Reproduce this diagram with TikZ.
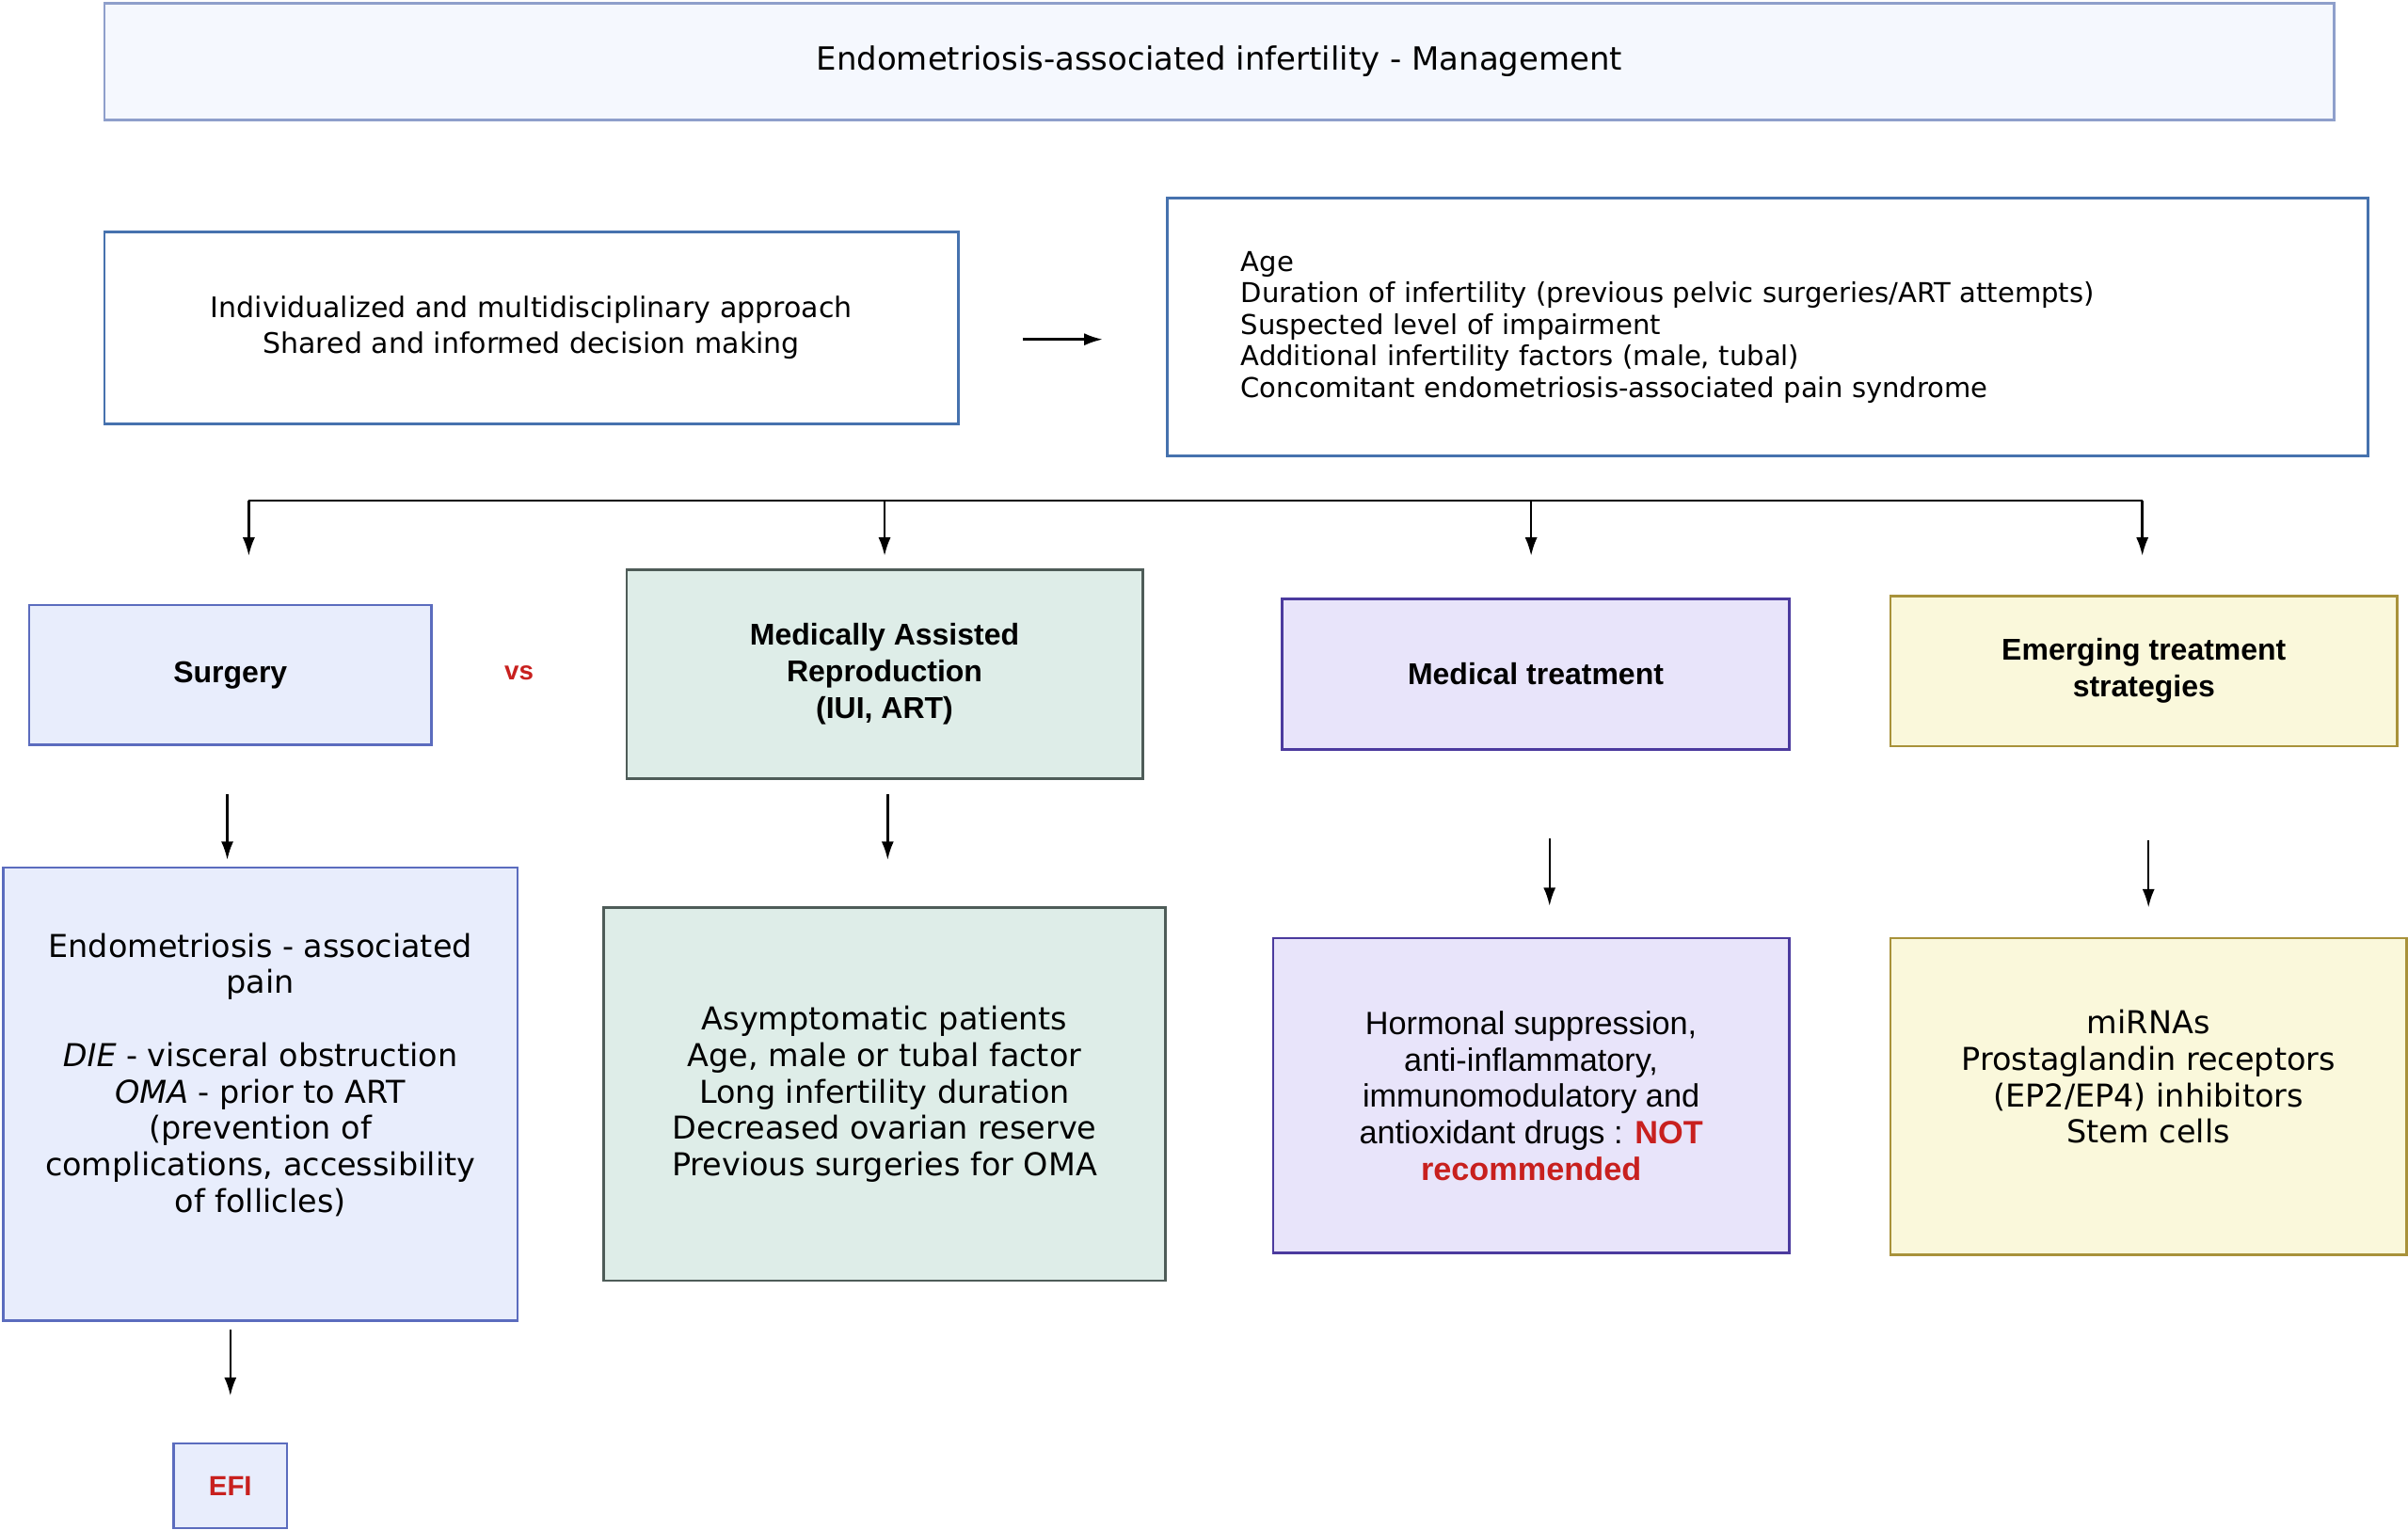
\documentclass[tikz,border=0pt]{standalone}
\usepackage{fontspec}
\setmainfont{DejaVu Sans}
\newfontfamily\headfont{Liberation Sans}
\usetikzlibrary{positioning}
\usetikzlibrary{calc}
\usetikzlibrary{arrows.meta}

\definecolor{titlefill}{HTML}{F5F8FE}
\definecolor{titledraw}{HTML}{8E9FCB}
\definecolor{bluedraw}{HTML}{4672AE}
\definecolor{surgfill}{HTML}{E8EDFC}
\definecolor{surgdraw}{HTML}{5B6CBE}
\definecolor{marfill}{HTML}{DEEDE8}
\definecolor{mardraw}{HTML}{4E5C58}
\definecolor{medfill}{HTML}{E8E4FA}
\definecolor{meddraw}{HTML}{4B3A9E}
\definecolor{emfill}{HTML}{FAF8DB}
\definecolor{emdraw}{HTML}{A8923A}
\definecolor{warnred}{HTML}{C8201E}

\newcommand{\txtsize}{\fontsize{20.5}{23.7}\selectfont}
\newcommand{\hdsize}{\headfont\bfseries\fontsize{19.6}{24}\selectfont}

\tikzset{
	every node/.style={align=center,outer sep=0pt},
	box/.style={draw,rectangle,line width=1.6pt},
	arr/.style={-{Latex[length=12pt,width=8pt]},line width=1.5pt},
}

\begin{document}
\begin{tikzpicture}[x=1pt,y=-1pt]
	\useasboundingbox (0,0) rectangle (1568,996);

	% title.....................
	\node [box,draw=titledraw,fill=titlefill,minimum width=1452,minimum height=76,font=\fontsize{20.8}{24}\selectfont] (title) at (794,40) {Endometriosis-associated infertility - Management};

	% approach and factors.....................
	\node [box,draw=bluedraw,minimum width=556,minimum height=125,font=\fontsize{18.4}{23}\selectfont] (approach) at (346,213.5) {Individualized and multidisciplinary approach\\Shared and informed decision making};
	\node [box,draw=bluedraw,minimum width=782,minimum height=168,text width=686,align=left,font=\fontsize{17.8}{20.5}\selectfont] (factors) at (1151,213) {Age\\Duration of infertility (previous pelvic surgeries/ART attempts)\\Suspected level of impairment\\Additional infertility factors (male, tubal)\\Concomitant endometriosis-associated pain syndrome};
	\coordinate (a1) at ($(approach.east)+(0,7.5)$);
	\draw [arr,shorten <=42pt,shorten >=42pt] (a1) -- (a1 -| factors.west);

	% options.....................
	\node [box,draw=surgdraw,fill=surgfill,minimum width=262,minimum height=91,font=\hdsize] (surgery) at (150,439.5) {Surgery};
	\node [text=warnred,font=\headfont\bfseries\fontsize{17}{20}\selectfont] (vs) at (338,438) {vs};
	\node [box,draw=mardraw,fill=marfill,minimum width=336,minimum height=136,font=\hdsize] (mar) at (576,439) {Medically Assisted\\Reproduction\\(IUI, ART)};
	\node [box,draw=meddraw,fill=medfill,minimum width=330,minimum height=98,font=\hdsize] (medical) at (1000,439) {Medical treatment};
	\node [box,draw=emdraw,fill=emfill,minimum width=330,minimum height=98,font=\hdsize] (emerging) at (1396,437) {Emerging treatment\\strategies};

	% bus line.....................
	\coordinate (b1) at (162,326);
	\coordinate (b2) at (576,326);
	\coordinate (b3) at (997,326);
	\coordinate (b4) at (1395,326);
	\draw [line width=1.5pt] (b1) -- (b4);
	\draw [arr,shorten >=32pt] (b1) -- (b1 |- surgery.north);
	\draw [arr,shorten >=9pt] (b2) -- (b2 |- mar.north);
	\draw [arr,shorten >=28pt] (b3) -- (b3 |- medical.north);
	\draw [arr,shorten >=26pt] (b4) -- (b4 |- emerging.north);

	% details.....................
	\node [box,draw=surgdraw,fill=surgfill,minimum width=335,minimum height=295,font=\txtsize] (surgdet) at (169.5,712.5) {Endometriosis - associated\\pain\\[23.7pt]\textit{DIE} - visceral obstruction\\\textit{OMA} - prior to ART\\(prevention of\\complications, accessibility\\of follicles)\rule[-28pt]{0pt}{1pt}};
	\node [box,draw=mardraw,fill=marfill,minimum width=366,minimum height=243,font=\txtsize] (mardet) at (576,712.5) {Asymptomatic patients\\Age, male or tubal factor\\Long infertility duration\\Decreased ovarian reserve\\Previous surgeries for OMA};
	\node [box,draw=meddraw,fill=medfill,minimum width=336,minimum height=205,font=\headfont\fontsize{21}{23.7}\selectfont] (meddet) at (997,713.5) {Hormonal suppression,\\anti-inflammatory,\\immunomodulatory and\\antioxidant drugs : \textcolor{warnred}{\bfseries NOT}\\\textcolor{warnred}{\bfseries recommended}};
	\node [box,draw=emdraw,fill=emfill,minimum width=336,minimum height=206,font=\txtsize] (emdet) at (1399,714) {miRNAs\\Prostaglandin receptors\\(EP2/EP4) inhibitors\\Stem cells\rule[-26pt]{0pt}{1pt}};
	\node [box,draw=surgdraw,fill=surgfill,minimum width=74,minimum height=55,text=warnred,font=\headfont\bfseries\fontsize{18}{22}\selectfont] (efi) at (150,967.5) {EFI};

	\coordinate (s1) at ($(surgery.south)+(-2,0)$);
	\coordinate (s2) at ($(mar.south)+(2,0)$);
	\coordinate (s3) at ($(medical.south)+(9,0)$);
	\coordinate (s4) at ($(emerging.south)+(3,0)$);
	\draw [arr,shorten <=32pt,shorten >=5pt] (s1) -- (s1 |- surgdet.north);
	\draw [arr,shorten <=10pt,shorten >=31pt] (s2) -- (s2 |- mardet.north);
	\draw [arr,shorten <=58pt,shorten >=21pt] (s3) -- (s3 |- meddet.north);
	\draw [arr,shorten <=61pt,shorten >=20pt] (s4) -- (s4 |- emdet.north);
	\draw [arr,shorten <=6pt,shorten >=31pt] (surgdet.south -| efi.north) -- (efi.north);

\end{tikzpicture}
\end{document}
